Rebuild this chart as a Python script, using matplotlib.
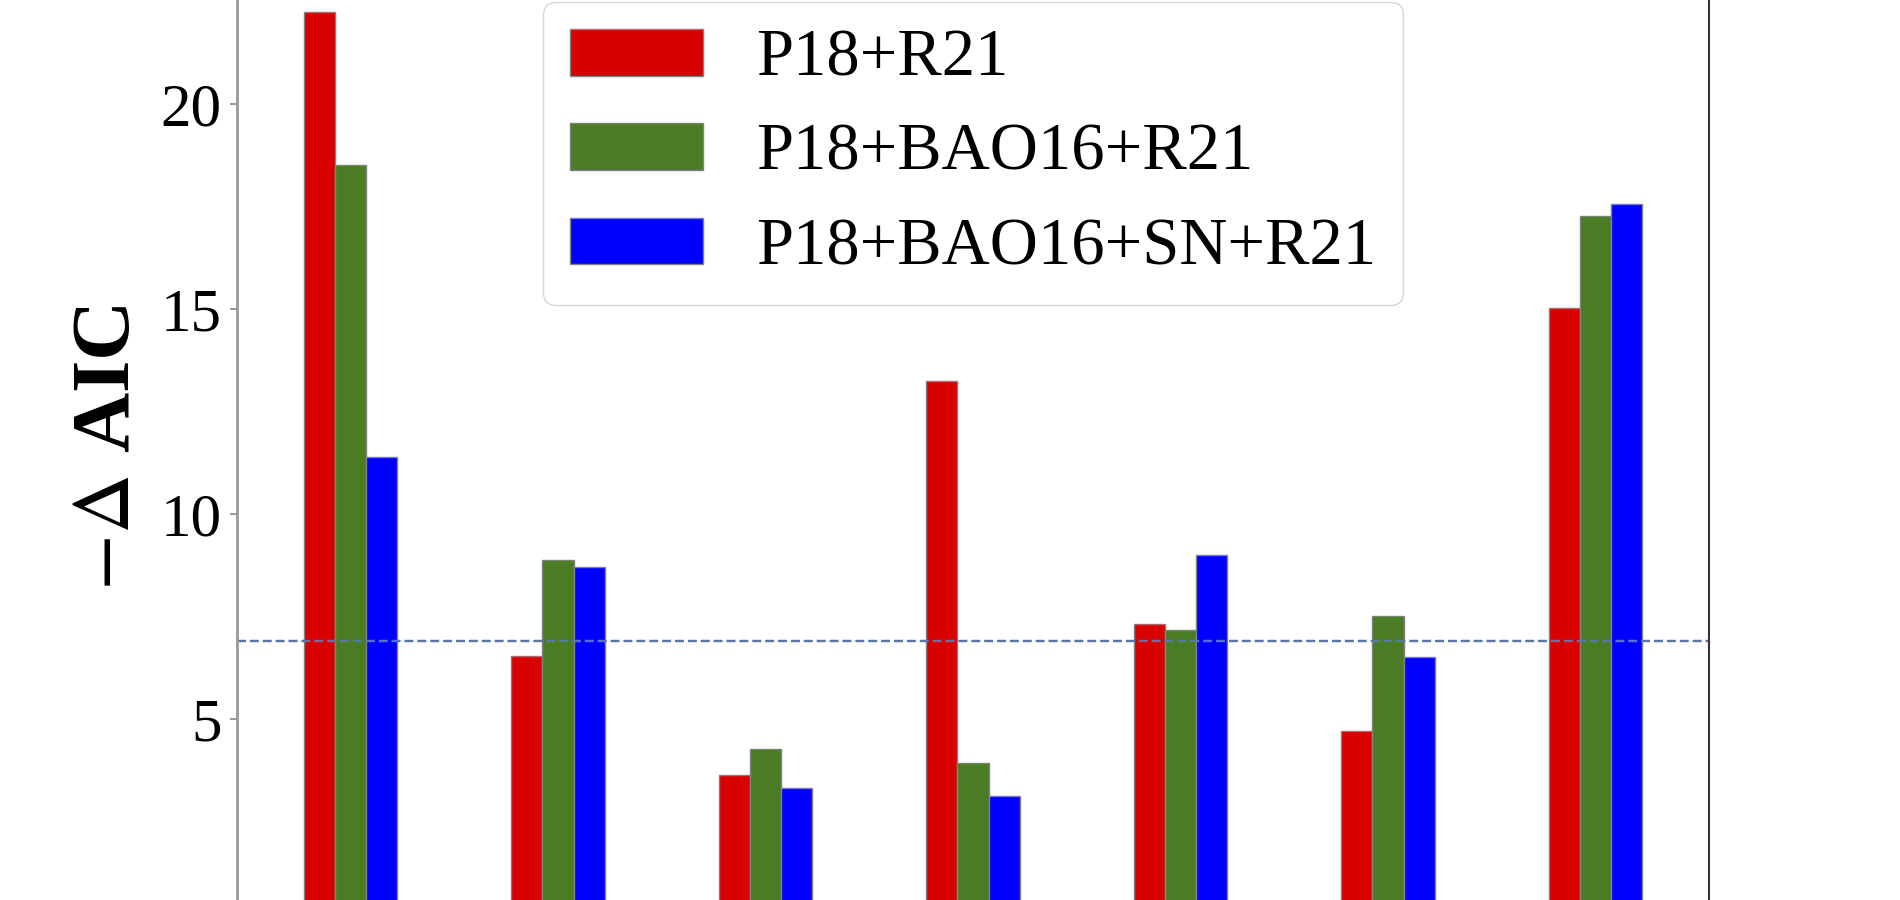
import numpy as np
import matplotlib
matplotlib.use("Agg")
import matplotlib.pyplot as plt

# fonts: Times-like serif, stix for the math part of the label
plt.rcParams['font.family'] = 'serif'
plt.rcParams['font.serif'] = ['Liberation Serif', 'DejaVu Serif']
plt.rcParams['mathtext.fontset'] = 'stix'

# data (-Delta AIC for each dataset combination)
groups = np.arange(7)
labels = ["P18+R21", "P18+BAO16+R21", "P18+BAO16+SN+R21"]
p18_r21 = [22.25, 6.54, 3.64, 13.25, 7.31, 4.70, 15.03]
p18_bao_r21 = [18.52, 8.88, 4.26, 3.93, 7.16, 7.51, 17.28]
p18_bao_sn_r21 = [11.39, 8.70, 3.31, 3.11, 8.99, 6.51, 17.57]
threshold = 6.9

colors = ['#d90000', '#4a7d23', '#0000ff']
width = 0.15

fig = plt.figure(figsize=(19, 9), dpi=100)
# the axes run past the top and bottom of the picture
ax = fig.add_axes([237 / 1900, -24 / 900, 1472 / 1900, 984 / 900])

series = [p18_r21, p18_bao_r21, p18_bao_sn_r21]
for i, vals in enumerate(series):
    ax.bar(groups + (i - 1) * width, vals, width, color=colors[i],
           edgecolor='gray', linewidth=1, label=labels[i])

ax.axhline(threshold, color='#5476b4', linestyle='--', linewidth=1.75)

ax.set_ylim(0, 24)
ax.set_yticks([5, 10, 15, 20])
ax.set_xticks([])
ax.tick_params(axis='y', labelsize=44, length=5, width=1.2, color='#888888', pad=6)
ax.set_ylabel(r'$-\Delta$ AIC', fontsize=60, fontweight='bold', labelpad=10, y=0.484)

ax.spines['left'].set_color('#999999')
ax.spines['left'].set_linewidth(2)
ax.spines['right'].set_color('#333333')
ax.spines['right'].set_linewidth(1.5)

ax.legend(loc='upper center', bbox_to_anchor=(0.5, 0.937), borderaxespad=0,
          fontsize=48, framealpha=0.8)

fig.savefig("out.png", dpi=100)
